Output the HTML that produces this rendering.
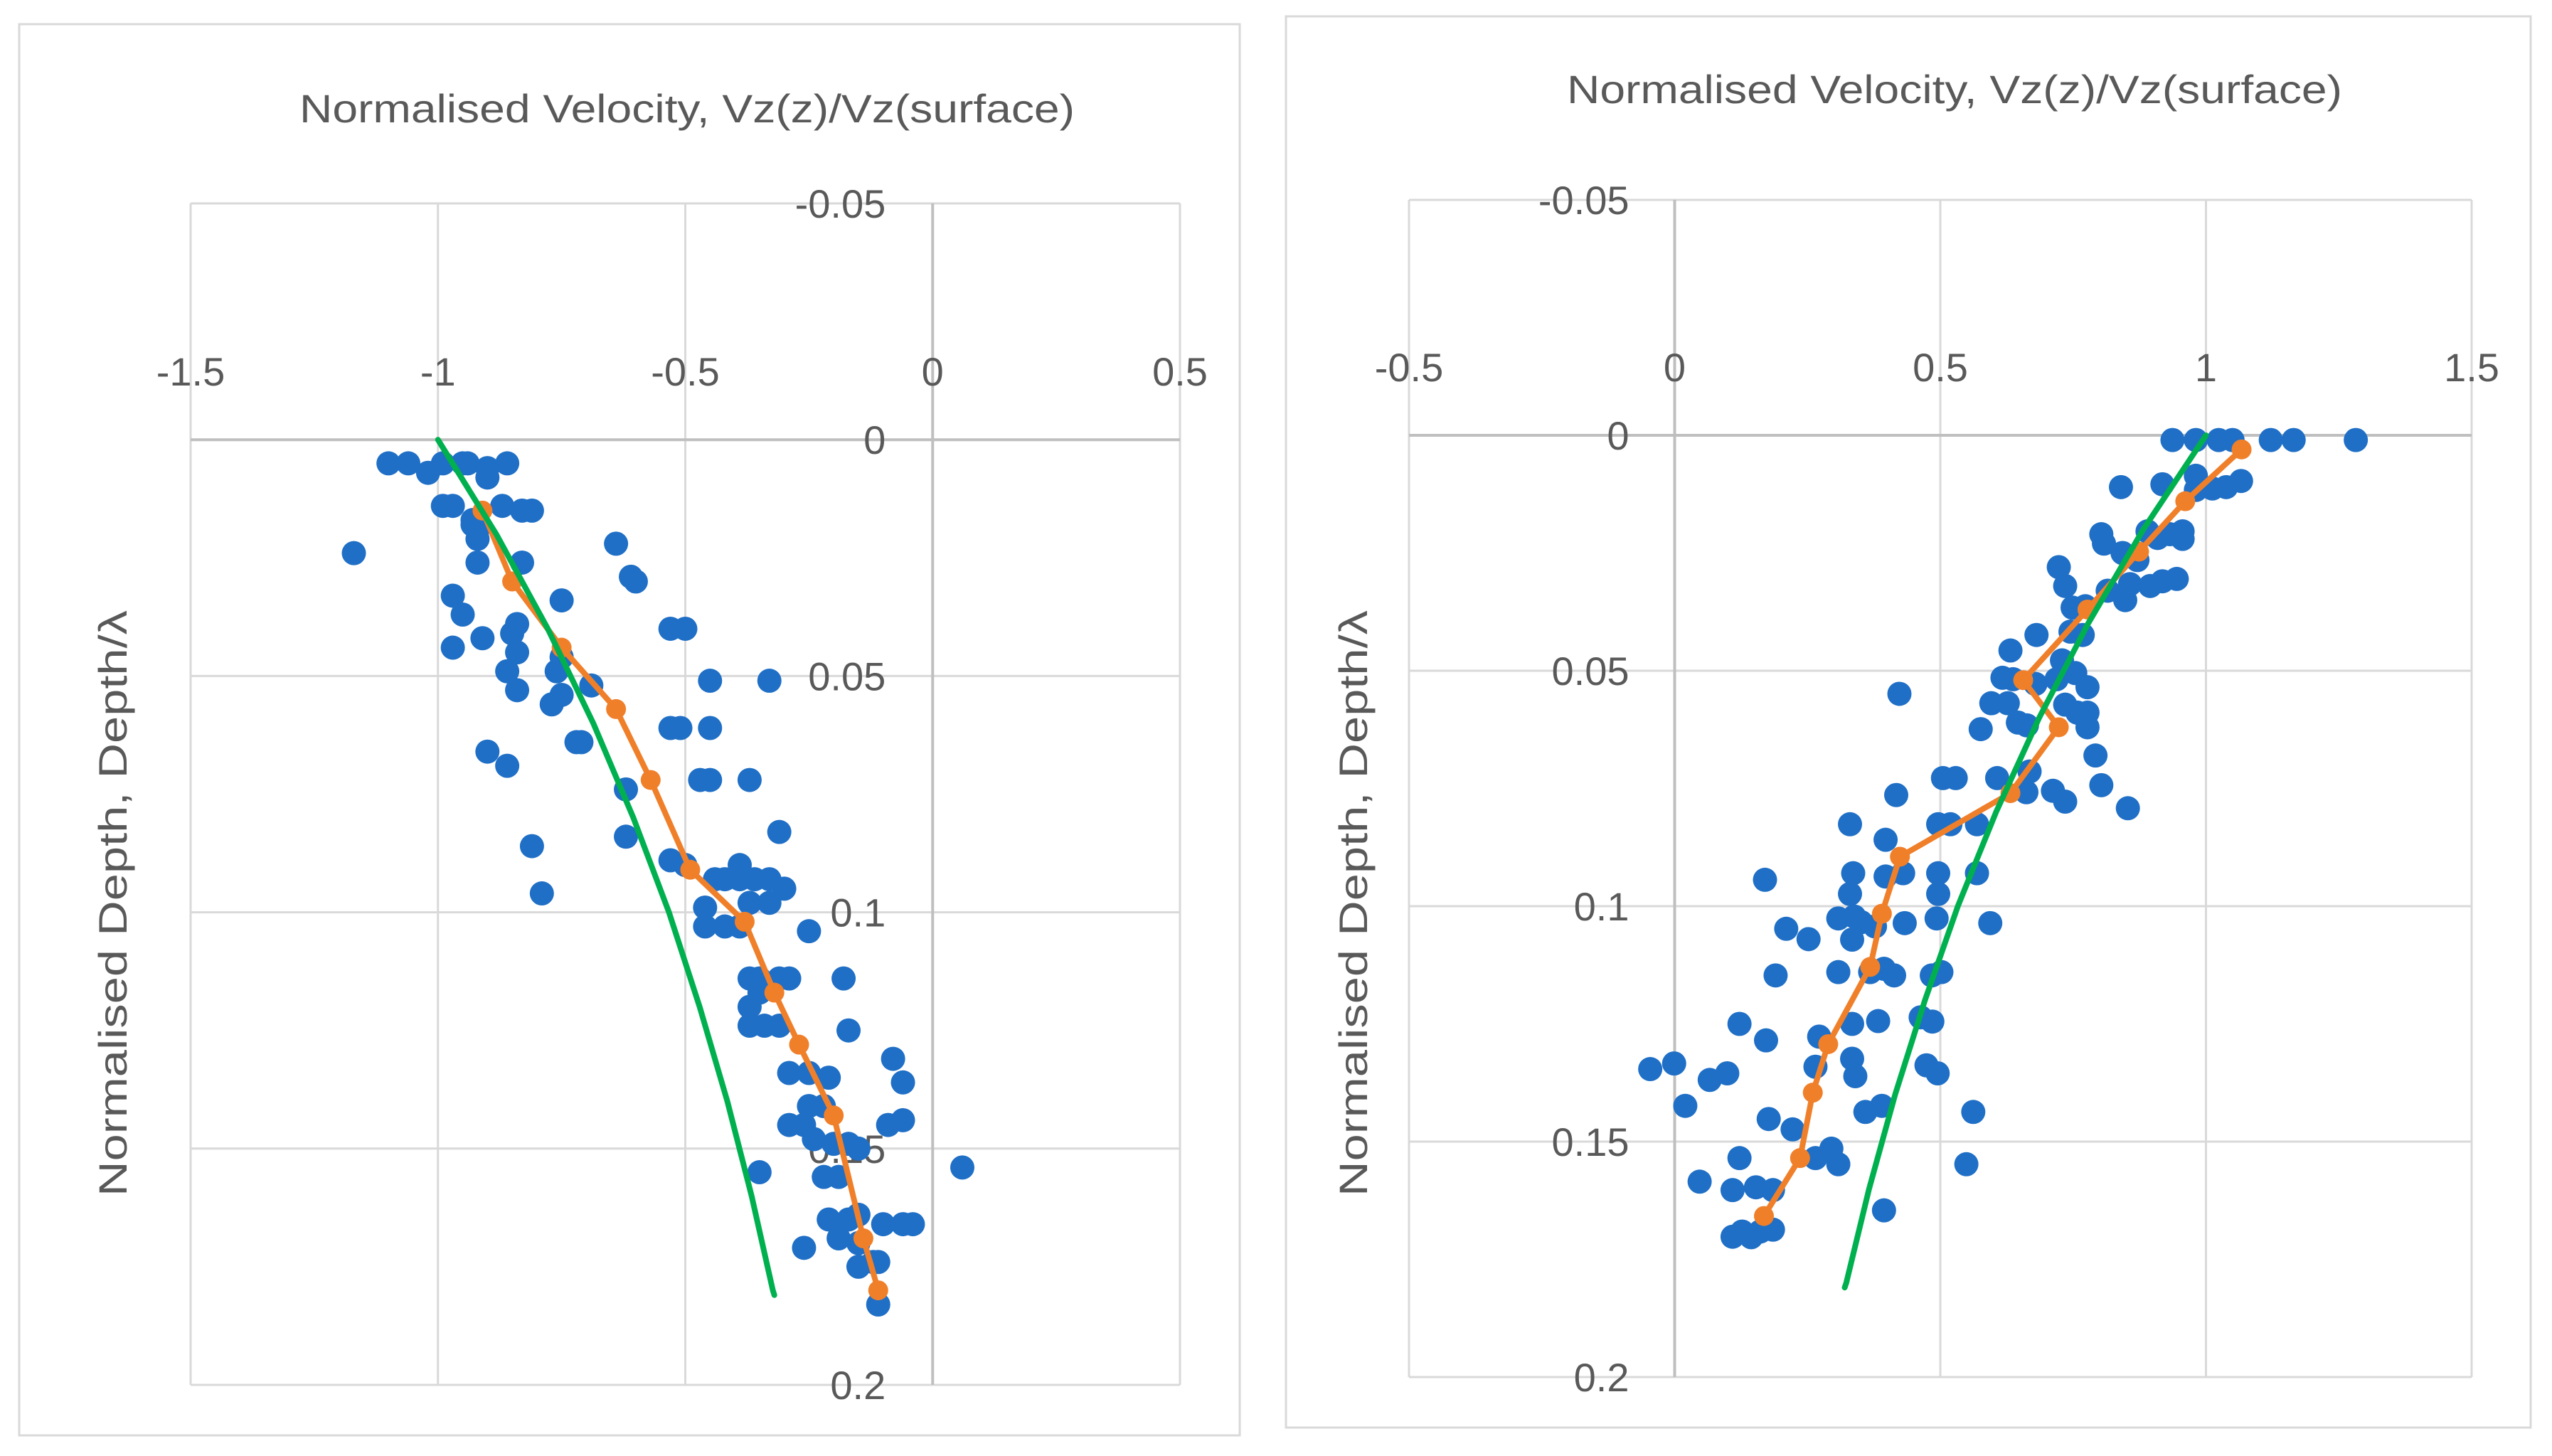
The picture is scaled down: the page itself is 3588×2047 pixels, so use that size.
<!DOCTYPE html>
<html><head><meta charset="utf-8"><style>
html,body{margin:0;padding:0;background:#fff;}
svg{display:block;font-family:"Liberation Sans",sans-serif;}
</style></head><body>
<svg id="root" width="3588" height="2047" viewBox="0 0 3588 2047" xmlns="http://www.w3.org/2000/svg">
<rect x="0" y="0" width="3588" height="2047" fill="#fff"/>
</svg>
<script>
// ---------- LEFT CHART DATA ----------
const leftBlueX=[-1.10,-1.06,-1.02,-0.99,-0.95,-0.94,-0.90,-0.90,-0.86,-0.99,-0.97,-0.93,-0.92,-0.92,-0.92,-0.93,-0.87,-0.83,-0.81,-0.83,-1.17,-0.97,-0.95,-0.91,-0.97,-0.85,-0.84,-0.84,-0.86,-0.84,-0.75,-0.64,-0.61,-0.60,-0.75,-0.76,-0.77,-0.75,-0.72,-0.71,-0.69,-0.90,-0.86,-0.81,-0.79,-0.62,-0.53,-0.50,-0.45,-0.33,-0.53,-0.51,-0.45,-0.47,-0.45,-0.62,-0.53,-0.50,-0.44,-0.42,-0.39,-0.36,-0.33,-0.39,-0.31,-0.37,-0.46,-0.46,-0.42,-0.39,-0.37,-0.33,-0.25,-0.30,-0.37,-0.35,-0.31,-0.29,-0.35,-0.37,-0.34,-0.31,-0.37,-0.18,-0.17,-0.25,-0.29,-0.21,-0.22,-0.25,-0.26,-0.29,-0.24,-0.20,-0.08,-0.06,-0.06,-0.09,-0.17,-0.15,-0.22,-0.19,-0.35,0.06,-0.21,-0.17,-0.15,-0.19,-0.26,-0.15,-0.12,-0.11,-0.10,-0.06,-0.04,-0.11,-0.15];
const leftBlueZ=[0.005,0.005,0.007,0.005,0.005,0.005,0.006,0.008,0.005,0.014,0.014,0.017,0.019,0.021,0.026,0.018,0.014,0.015,0.015,0.026,0.024,0.033,0.037,0.042,0.044,0.041,0.045,0.039,0.049,0.053,0.034,0.022,0.029,0.030,0.046,0.049,0.056,0.054,0.064,0.064,0.052,0.066,0.069,0.086,0.096,0.074,0.040,0.040,0.051,0.051,0.061,0.061,0.061,0.072,0.072,0.084,0.089,0.090,0.093,0.093,0.093,0.093,0.093,0.090,0.083,0.072,0.099,0.103,0.103,0.103,0.098,0.098,0.104,0.095,0.114,0.114,0.114,0.114,0.117,0.124,0.124,0.124,0.120,0.114,0.125,0.134,0.134,0.135,0.141,0.141,0.145,0.145,0.148,0.149,0.131,0.136,0.144,0.145,0.149,0.150,0.156,0.156,0.155,0.154,0.165,0.165,0.164,0.169,0.171,0.175,0.174,0.174,0.166,0.166,0.166,0.183,0.170];
const leftOrangeX=[-0.91,-0.85,-0.75,-0.64,-0.57,-0.49,-0.38,-0.32,-0.27,-0.20,-0.14,-0.11];
const leftOrangeZ=[0.015,0.030,0.044,0.057,0.072,0.091,0.102,0.117,0.128,0.143,0.169,0.180];
const leftGreenX=[-1.000,-0.882,-0.778,-0.686,-0.605,-0.533,-0.471,-0.415,-0.366,-0.323,-0.320];
const leftGreenZ=[0,0.02,0.04,0.06,0.08,0.10,0.12,0.14,0.16,0.18,0.181];
const leftXTicks=["-1.5","-1","-0.5","0","0.5"];
const leftXTickVals=[-1.5,-1,-0.5,0,0.5];
// ---------- RIGHT CHART DATA ----------
const rightBlueX=[0.937,0.981,1.024,1.050,1.122,1.165,1.282,0.840,0.918,0.981,0.981,1.012,1.038,1.066,0.803,0.808,0.890,0.909,0.932,0.956,0.956,0.843,0.871,0.723,0.735,0.815,0.848,0.857,0.895,0.918,0.945,0.749,0.773,0.745,0.768,0.681,0.632,0.729,0.617,0.637,0.679,0.719,0.754,0.777,0.423,0.596,0.627,0.735,0.758,0.777,0.646,0.663,0.777,0.576,0.792,0.505,0.529,0.607,0.668,0.662,0.712,0.735,0.803,0.853,0.417,0.330,0.496,0.519,0.569,0.397,0.170,0.336,0.397,0.430,0.496,0.569,0.330,0.496,0.308,0.338,0.351,0.377,0.433,0.493,0.594,0.210,0.252,0.334,0.190,0.308,0.368,0.394,0.413,0.484,0.502,0.122,0.172,0.272,0.334,0.383,0.463,0.485,-0.046,-0.001,0.066,0.099,0.265,0.334,0.340,0.474,0.495,0.020,0.359,0.390,0.562,0.177,0.222,0.122,0.265,0.295,0.308,0.549,0.047,0.109,0.153,0.185,0.394,0.109,0.127,0.144,0.161,0.185];
const rightBlueZ=[0.001,0.001,0.001,0.001,0.001,0.001,0.001,0.011,0.0104,0.0086,0.0116,0.0113,0.011,0.0097,0.021,0.023,0.0204,0.0218,0.021,0.0204,0.022,0.025,0.0265,0.028,0.032,0.033,0.035,0.0316,0.032,0.031,0.0305,0.0366,0.0363,0.0417,0.0424,0.0424,0.0457,0.0478,0.0515,0.0518,0.0528,0.0518,0.0505,0.0535,0.0549,0.0569,0.0569,0.0572,0.0589,0.0589,0.061,0.0616,0.062,0.0624,0.068,0.0728,0.0728,0.0728,0.0714,0.0758,0.0755,0.0778,0.0743,0.0792,0.0764,0.0826,0.0826,0.0826,0.0826,0.0859,0.0944,0.093,0.0937,0.093,0.093,0.093,0.0974,0.0974,0.1026,0.1022,0.1034,0.1043,0.1036,0.1026,0.1036,0.1048,0.107,0.1071,0.1147,0.114,0.114,0.1133,0.1147,0.1147,0.114,0.125,0.1285,0.1277,0.125,0.1244,0.1236,0.1245,0.1346,0.1334,0.1369,0.1355,0.1341,0.1324,0.1361,0.1338,0.1355,0.1424,0.1437,0.1424,0.1437,0.1452,0.1474,0.1535,0.1535,0.1515,0.1548,0.1548,0.1585,0.1603,0.1597,0.1603,0.1646,0.1702,0.1691,0.1703,0.1691,0.1687];
const rightOrangeX=[1.067,0.961,0.874,0.777,0.656,0.723,0.632,0.424,0.390,0.368,0.289,0.260,0.236,0.168];
const rightOrangeZ=[0.003,0.014,0.0247,0.037,0.052,0.062,0.076,0.0895,0.1016,0.1129,0.1293,0.1396,0.1535,0.1658];
const rightGreenX=[1.000,0.882,0.778,0.686,0.605,0.533,0.471,0.415,0.366,0.323,0.320];
const rightGreenZ=[0,0.02,0.04,0.06,0.08,0.10,0.12,0.14,0.16,0.18,0.181];
const rightXTicks=["-0.5","0","0.5","1","1.5"];
const rightXTickVals=[-0.5,0,0.5,1,1.5];
const yTicks=["-0.05","0","0.05","0.1","0.15","0.2"];
const yTickVals=[-0.05,0,0.05,0.1,0.15,0.2];

const NS="http://www.w3.org/2000/svg";
const root=document.getElementById('root');
function mk(tag,attrs,parent){const e=document.createElementNS(NS,tag);for(const k in attrs)e.setAttribute(k,attrs[k]);(parent||root).appendChild(e);return e;}

function chart(cfg,prefix){
  const g=mk('g',{});
  
  
  const fr=mk('rect',{x:cfg.fx,y:cfg.fy,width:cfg.fw,height:cfg.fh,fill:'#fff',stroke:'#d9d9d9','stroke-width':3},g);
  
  
  const sx=v=>cfg.px0+(v-cfg.xmin)/(cfg.xmax-cfg.xmin)*(cfg.px1-cfg.px0);
  const sy=v=>cfg.py0+(v-(-0.05))/(0.25)*(cfg.py1-cfg.py0);
  cfg.xv.forEach(v=>{const l=mk('line',{x1:sx(v),x2:sx(v),y1:cfg.py0,y2:cfg.py1,stroke:'#d9d9d9','stroke-width':3},g);
    
    });
  yTickVals.forEach(v=>{const l=mk('line',{x1:cfg.px0,x2:cfg.px1,y1:sy(v),y2:sy(v),stroke:'#d9d9d9','stroke-width':3},g);
    
    });
  const ax=mk('line',{x1:cfg.px0,x2:cfg.px1,y1:sy(0),y2:sy(0),stroke:'#bfbfbf','stroke-width':4},g);
  
  
  const ay=mk('line',{x1:sx(0),x2:sx(0),y1:cfg.py0,y2:cfg.py1,stroke:'#bfbfbf','stroke-width':4},g);
  
  
  cfg.xv.forEach((v,i)=>{const t=mk('text',{x:sx(v),y:sy(0)-76,'text-anchor':'middle','font-size':56,fill:'#595959'},g);t.textContent=cfg.xl[i];
    
    });
  yTickVals.forEach((v,i)=>{const t=mk('text',{x:sx(0)-cfg.yoff,y:sy(v)+20,'text-anchor':'end','font-size':56,fill:'#595959'},g);t.textContent=yTicks[i];
    
    });
  const tt=mk('text',{x:cfg.tx,y:cfg.ty,'text-anchor':'middle','font-size':56,fill:'#595959',textLength:1090,lengthAdjust:'spacingAndGlyphs'},g);
  tt.textContent='Normalised Velocity, Vz(z)/Vz(surface)';
  
  
  const yt=mk('text',{x:0,y:0,'text-anchor':'middle','font-size':56,fill:'#595959',textLength:824,lengthAdjust:'spacingAndGlyphs',transform:`translate(${cfg.ytx},${cfg.yty}) rotate(-90)`},g);
  yt.textContent='Normalised Depth, Depth/λ';
  
  
  cfg.bx.forEach((v,i)=>{const c=mk('circle',{cx:sx(v),cy:sy(cfg.bz[i]),r:17,fill:'#1f6fc6'},g);
    
    });
  const op=mk('polyline',{points:cfg.ox.map((v,i)=>sx(v)+','+sy(cfg.oz[i])).join(' '),fill:'none',stroke:'#f07f2a','stroke-width':8},g);
  
  
  cfg.ox.forEach((v,i)=>{const c=mk('circle',{cx:sx(v),cy:sy(cfg.oz[i]),r:14,fill:'#f07f2a'},g);
    
    });
  const gp=mk('polyline',{points:cfg.gx.map((v,i)=>sx(v)+','+sy(cfg.gz[i])).join(' '),fill:'none',stroke:'#00b04f','stroke-width':8,'stroke-linecap':'round'},g);
  
  
}

chart({fx:27,fy:34,fw:1716,fh:1984,px0:268,px1:1659,py0:286,py1:1947,xmin:-1.5,xmax:0.5,
  xv:leftXTickVals,xl:leftXTicks,yoff:66,tx:966,ty:172,ytx:178,yty:1270,
  bx:leftBlueX,bz:leftBlueZ,ox:leftOrangeX,oz:leftOrangeZ,gx:leftGreenX,gz:leftGreenZ},'left');
chart({fx:1808,fy:23,fw:1750,fh:1984,px0:1981,px1:3475,py0:281,py1:1936,xmin:-0.5,xmax:1.5,
  xv:rightXTickVals,xl:rightXTicks,yoff:64,tx:2748,ty:145,ytx:1922,yty:1270,
  bx:rightBlueX,bz:rightBlueZ,ox:rightOrangeX,oz:rightOrangeZ,gx:rightGreenX,gz:rightGreenZ},'right');
</script>
</body></html>
